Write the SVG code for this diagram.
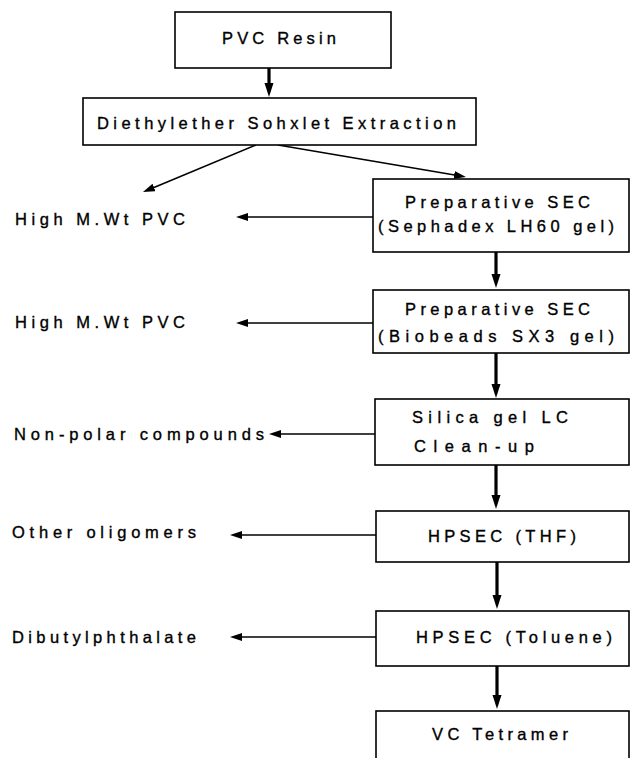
<svg xmlns="http://www.w3.org/2000/svg" width="631" height="758" viewBox="0 0 631 758">
<style>
.box{fill:#fff;stroke:#000;stroke-width:1.6}
.t{font-family:"Liberation Sans",Arial,sans-serif;font-size:16.5px;fill:#000;stroke:#000;stroke-width:0.35}
.thin{stroke:#000;stroke-width:1.6;fill:none}
.thick{stroke:#000;stroke-width:3.2;fill:none}
</style>
<defs>
<marker id="ah" markerUnits="userSpaceOnUse" markerWidth="14" markerHeight="8" refX="2" refY="4" orient="auto">
<path d="M0,0 L12,4 L0,8 z" fill="#000"/>
</marker>
<marker id="av" markerUnits="userSpaceOnUse" markerWidth="16" markerHeight="10" refX="2" refY="4.5" orient="auto">
<path d="M0,0 L14,4.5 L0,9 z" fill="#000"/>
</marker>
</defs>
<rect width="631" height="758" fill="#fff"/>
<g id="connectors">
<line class="thick" x1="269" y1="68" x2="269" y2="85" marker-end="url(#av)"/>
<line class="thin" x1="256" y1="145" x2="152.2" y2="188.2" marker-end="url(#ah)"/>
<line class="thin" x1="278" y1="145" x2="456.1" y2="175.3" marker-end="url(#ah)"/>
<line class="thin" x1="373" y1="217" x2="246" y2="217" marker-end="url(#ah)"/>
<line class="thick" x1="496" y1="252" x2="496" y2="276" marker-end="url(#av)"/>
<line class="thin" x1="373" y1="323" x2="246" y2="323" marker-end="url(#ah)"/>
<line class="thick" x1="496" y1="353" x2="496" y2="386" marker-end="url(#av)"/>
<line class="thin" x1="375" y1="434" x2="279" y2="434" marker-end="url(#ah)"/>
<line class="thick" x1="496" y1="465" x2="496" y2="497" marker-end="url(#av)"/>
<line class="thin" x1="376" y1="535" x2="240" y2="535" marker-end="url(#ah)"/>
<line class="thick" x1="497" y1="562" x2="497" y2="597" marker-end="url(#av)"/>
<line class="thin" x1="376" y1="637" x2="240" y2="637" marker-end="url(#ah)"/>
<line class="thick" x1="497" y1="666" x2="497" y2="697" marker-end="url(#av)"/>
</g>
<g id="pvc-resin">
<rect class="box" x="175" y="12" width="216" height="56"/>
<text class="t" x="222" y="44" textLength="114" lengthAdjust="spacing">PVC Resin</text>
</g>
<g id="soxhlet">
<rect class="box" x="83" y="98" width="393" height="47"/>
<text class="t" x="97" y="129" textLength="359" lengthAdjust="spacing">Diethylether Sohxlet Extraction</text>
</g>
<g id="sec1">
<rect class="box" x="373" y="179" width="256" height="73"/>
<text class="t" x="405" y="208" textLength="185" lengthAdjust="spacing">Preparative SEC</text>
<text class="t" x="378" y="232" textLength="236" lengthAdjust="spacing">(Sephadex LH60 gel)</text>
</g>
<g id="sec2">
<rect class="box" x="373" y="290" width="256" height="63"/>
<text class="t" x="405" y="315" textLength="185" lengthAdjust="spacing">Preparative SEC</text>
<text class="t" x="378" y="342" textLength="236" lengthAdjust="spacing">(Biobeads SX3 gel)</text>
</g>
<g id="silica">
<rect class="box" x="375" y="399" width="254" height="66"/>
<text class="t" x="412" y="423" textLength="156" lengthAdjust="spacing">Silica gel LC</text>
<text class="t" x="414" y="452" textLength="120" lengthAdjust="spacing">Clean-up</text>
</g>
<g id="hpsec-thf">
<rect class="box" x="376" y="511" width="253" height="51"/>
<text class="t" x="428" y="542" textLength="148" lengthAdjust="spacing">HPSEC (THF)</text>
</g>
<g id="hpsec-toluene">
<rect class="box" x="376" y="611" width="253" height="55"/>
<text class="t" x="416" y="643" textLength="196" lengthAdjust="spacing">HPSEC (Toluene)</text>
</g>
<g id="vc-tetramer">
<rect class="box" x="376" y="711" width="253" height="70"/>
<text class="t" x="432" y="740" textLength="136" lengthAdjust="spacing">VC Tetramer</text>
</g>
<g id="out-high1">
<text class="t" x="15" y="225" textLength="170" lengthAdjust="spacing">High M.Wt PVC</text>
</g>
<g id="out-high2">
<text class="t" x="15" y="328" textLength="170" lengthAdjust="spacing">High M.Wt PVC</text>
</g>
<g id="out-nonpolar">
<text class="t" x="14" y="440" textLength="250" lengthAdjust="spacing">Non-polar compounds</text>
</g>
<g id="out-oligomers">
<text class="t" x="12" y="538" textLength="184" lengthAdjust="spacing">Other oligomers</text>
</g>
<g id="out-dbp">
<text class="t" x="12" y="643" textLength="184" lengthAdjust="spacing">Dibutylphthalate</text>
</g>
</svg>
